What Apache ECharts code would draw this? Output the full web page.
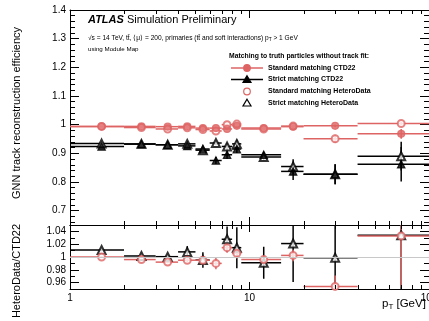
<!DOCTYPE html>
<html>
<head>
<meta charset="utf-8">
<script src="https://cdn.jsdelivr.net/npm/echarts@6/dist/echarts.min.js"></script>
<style>
  html, body { margin: 0; padding: 0; background: #fff; }
  #chart { width: 429px; height: 321px; }
</style>
</head>
<body>
<div id="chart"></div>
<script>
// pT bins [GeV]
const binLo = [1, 2, 3, 4, 5, 6, 7, 8, 9, 15, 20, 40];
const binHi = [2, 3, 4, 5, 6, 7, 8, 9, 15, 20, 40, 100];
const binCenter = [1.5, 2.5, 3.5, 4.5, 5.5, 6.5, 7.5, 8.5, 12, 17.5, 30, 70];

// efficiency, main panel
const stdCTD = [0.994, 0.994, 0.993, 0.994, 0.988, 0.988, 0.985, 0.996, 0.988, 0.993, 0.996, 0.968];
const stdCTDErr = [0.001, 0.001, 0.001, 0.001, 0.002, 0.002, 0.002, 0.003, 0.002, 0.004, 0.005, 0.017];
const stdHet = [0.994, 0.990, 0.985, 0.989, 0.983, 0.978, 1.000, 1.002, 0.985, 0.995, 0.951, 1.004];
const stdHetErr = [0.001, 0.001, 0.001, 0.002, 0.002, 0.003, 0.003, 0.004, 0.003, 0.005, 0.014, 0.006];
const strictCTD = [0.924, 0.932, 0.930, 0.926, 0.915, 0.875, 0.895, 0.915, 0.895, 0.837, 0.827, 0.862];
const strictCTDErr = [0.002, 0.002, 0.002, 0.003, 0.005, 0.012, 0.014, 0.014, 0.008, 0.03, 0.035, 0.06];
const strictHet = [0.934, 0.933, 0.930, 0.933, 0.911, 0.936, 0.924, 0.933, 0.887, 0.854, 0.827, 0.890];
const strictHetErr = [0.002, 0.002, 0.002, 0.003, 0.005, 0.008, 0.012, 0.014, 0.012, 0.025, 0.035, 0.05];

// HeteroData / CTD22 ratio panel
const ratioStd = [1.000, 0.996, 0.992, 0.995, 0.995, 0.990, 1.0146, 1.0057, 0.996, 1.0025, 0.954, 1.033];
const ratioStdErr = [0.001, 0.002, 0.002, 0.003, 0.004, 0.009, 0.008, 0.008, 0.004, 0.009, 0.017, 0.08];
const ratioStrict = [1.011, 1.0016, 1.0005, 1.008, 0.9953, 1.07, 1.0277, 1.0146, 0.991, 1.021, 0.999, 1.034];
const ratioStrictErr = [0.002, 0.002, 0.002, 0.009, 0.012, 0.02, 0.02, 0.032, 0.025, 0.06, 0.07, 0.1];

// tick values
const mainMajor = [0.7, 0.8, 0.9, 1, 1.1, 1.2, 1.3, 1.4];
const mainMinor = [0.66, 0.68, 0.72, 0.74, 0.76, 0.78, 0.82, 0.84, 0.86, 0.88, 0.92, 0.94, 0.96, 0.98,
  1.02, 1.04, 1.06, 1.08, 1.12, 1.14, 1.16, 1.18, 1.22, 1.24, 1.26, 1.28, 1.32, 1.34, 1.36, 1.38];
const ratioMajor = [0.96, 0.98, 1, 1.02, 1.04];
const ratioMinor = [0.95, 0.97, 0.99, 1.01, 1.03, 1.05];
const xMinor = [2, 3, 4, 5, 6, 7, 8, 9, 20, 30, 40, 50, 60, 70, 80, 90];

const RED = '#de6464';
const FONT = '"Liberation Sans", Arial, Helvetica, sans-serif';

const chart = echarts.init(document.getElementById('chart'), null, { renderer: 'canvas' });

function rows(vals, errs) {
  return binCenter.map((x, i) => [x, vals[i], binLo[i], binHi[i], errs[i]]);
}

function errBars(color) {
  return function (params, api) {
    const y = api.value(1), e = api.value(4);
    const l = api.coord([api.value(2), y]);
    const r = api.coord([api.value(3), y]);
    const t = api.coord([api.value(0), y + e]);
    const b = api.coord([api.value(0), y - e]);
    return {
      type: 'group',
      children: [
        { type: 'line', shape: { x1: l[0], y1: l[1], x2: r[0], y2: r[1] }, style: { stroke: color, lineWidth: 1.5 } },
        { type: 'line', shape: { x1: t[0], y1: t[1], x2: b[0], y2: b[1] }, style: { stroke: color, lineWidth: 1.5 } }
      ]
    };
  };
}

// minor log ticks on bottom and top frame of a grid
function minorTicks(len) {
  return function (params, api) {
    const cs = params.coordSys;
    const x = Math.round(api.coord([api.value(0), api.value(1)])[0]) + 0.5;
    const yb = cs.y + cs.height, yt = cs.y;
    return {
      type: 'group',
      children: [
        { type: 'line', shape: { x1: x, y1: yb, x2: x, y2: yb - len }, style: { stroke: '#000', lineWidth: 1 } },
        { type: 'line', shape: { x1: x, y1: yt, x2: x, y2: yt + len }, style: { stroke: '#000', lineWidth: 1 } }
      ]
    };
  };
}

// 2 x axes per grid: bottom (labels) and top
function xAxes(g, labels, majLen) {
  const base = { type: 'log', logBase: 10, min: 1, max: 100, gridIndex: g, splitLine: { show: false } };
  return [
    Object.assign({}, base, {
      position: 'bottom',
      axisLine: { show: true, lineStyle: { color: '#000', width: 1 } },
      axisTick: { inside: true, length: majLen, lineStyle: { color: '#000' } },
      axisLabel: {
        show: labels, margin: 4, color: '#000', fontSize: 10, fontFamily: FONT,
        alignMinLabel: 'center', alignMaxLabel: 'center', hideOverlap: false
      }
    }),
    Object.assign({}, base, {
      position: 'top',
      axisLine: { show: true, lineStyle: { color: '#000', width: 1 } },
      axisTick: { inside: true, length: majLen, lineStyle: { color: '#000' } },
      axisLabel: { show: false }
    })
  ];
}

function yAxes(g, min, max, major, minor) {
  const base = { type: 'value', min: min, max: max, gridIndex: g, splitLine: { show: false } };
  return [
    Object.assign({}, base, {
      position: 'left',
      axisLine: { show: true, lineStyle: { color: '#000', width: 1 } },
      axisTick: { inside: true, length: 9, customValues: major, lineStyle: { color: '#000' } },
      axisLabel: { customValues: major, margin: 4, color: '#000', fontSize: 10, fontFamily: FONT }
    }),
    Object.assign({}, base, {
      position: 'left',
      axisLine: { show: false },
      axisTick: { inside: true, length: 5, customValues: minor, lineStyle: { color: '#000' } },
      axisLabel: { show: false }
    }),
    Object.assign({}, base, {
      position: 'right',
      axisLine: { show: true, lineStyle: { color: '#000', width: 1 } },
      axisTick: { inside: true, length: 9, customValues: major, lineStyle: { color: '#000' } },
      axisLabel: { show: false }
    }),
    Object.assign({}, base, {
      position: 'right',
      axisLine: { show: false },
      axisTick: { inside: true, length: 5, customValues: minor, lineStyle: { color: '#000' } },
      axisLabel: { show: false }
    })
  ];
}

function errSeries(data, color, xi, yi) {
  return {
    type: 'custom', xAxisIndex: xi, yAxisIndex: yi, clip: true, silent: true,
    renderItem: errBars(color), data: data, z: 2
  };
}
function markSeries(data, symbol, size, color, xi, yi, z) {
  return {
    type: 'scatter', xAxisIndex: xi, yAxisIndex: yi, clip: true, silent: true,
    symbol: symbol, symbolSize: size, data: data.map(d => [d[0], d[1]]),
    itemStyle: { color: color, borderColor: color, borderWidth: 1.2 }, z: z
  };
}
function tickSeries(xi, yi, len) {
  return {
    type: 'custom', xAxisIndex: xi, yAxisIndex: yi, clip: false, silent: true,
    renderItem: minorTicks(len), data: xMinor.map(v => [v, 1]), z: 5
  };
}

const series = [
  tickSeries(0, 0, 4),
  tickSeries(2, 4, 4),
  // main panel
  errSeries(rows(stdHet, stdHetErr), RED, 0, 0),
  markSeries(rows(stdHet, stdHetErr), 'emptyCircle', 7, RED, 0, 0, 3),
  errSeries(rows(strictHet, strictHetErr), '#000', 0, 0),
  markSeries(rows(strictHet, strictHetErr), 'emptyTriangle', 8, '#000', 0, 0, 3),
  errSeries(rows(stdCTD, stdCTDErr), RED, 0, 0),
  markSeries(rows(stdCTD, stdCTDErr), 'circle', 7, RED, 0, 0, 4),
  errSeries(rows(strictCTD, strictCTDErr), '#000', 0, 0),
  markSeries(rows(strictCTD, strictCTDErr), 'triangle', 7.5, '#000', 0, 0, 4),
  // ratio panel
  {
    type: 'scatter', xAxisIndex: 2, yAxisIndex: 4, data: [], silent: true,
    markLine: {
      silent: true, symbol: 'none', animation: false, label: { show: false },
      lineStyle: { color: '#c8c8c8', type: 'solid', width: 1 },
      data: [{ yAxis: 1 }]
    }
  },
  errSeries(rows(ratioStrict, ratioStrictErr), '#000', 2, 4),
  markSeries(rows(ratioStrict, ratioStrictErr), 'emptyTriangle', 8, '#000', 2, 4, 3),
  errSeries(rows(ratioStd, ratioStdErr), RED, 2, 4),
  markSeries(rows(ratioStd, ratioStdErr), 'emptyCircle', 7, RED, 2, 4, 4)
];

const legendRows = [
  { label: 'Standard matching CTD22', symbol: 'circle', color: RED, line: true, y: 68 },
  { label: 'Strict matching CTD22', symbol: 'triangle', color: '#000', line: true, y: 79.5 },
  { label: 'Standard matching HeteroData', symbol: 'emptyCircle', color: RED, line: false, y: 91.5 },
  { label: 'Strict matching HeteroData', symbol: 'emptyTriangle', color: '#000', line: false, y: 103 }
];

const graphic = [
  { type: 'text', style: { x: 88, y: 20, text: 'ATLAS', font: 'italic bold 11px ' + FONT, fill: '#000', verticalAlign: 'middle' } },
  { type: 'text', style: { x: 127, y: 20, text: 'Simulation Preliminary', font: '11px ' + FONT, fill: '#000', verticalAlign: 'middle' } },
  {
    type: 'text',
    style: {
      x: 88, y: 38, verticalAlign: 'middle', fill: '#000',
      text: '{a|\u221As = 14 TeV, t\u0074\u0304, \u27E8\u03BC\u27E9 = 200, primaries (t\u0074\u0304 and soft interactions) p}{s|T}{a| > 1 GeV}',
      rich: {
        a: { fontSize: 6.6, fontFamily: FONT, lineHeight: 8, fill: '#000' },
        s: { fontSize: 4.8, fontFamily: FONT, lineHeight: 5, verticalAlign: 'bottom', fill: '#000' }
      }
    }
  },
  { type: 'text', style: { x: 88, y: 49, text: 'using Module Map', font: '6.2px ' + FONT, fill: '#000', verticalAlign: 'middle' } },
  { type: 'text', style: { x: 229, y: 56, text: 'Matching to truth particles without track fit:', font: 'bold 6.8px ' + FONT, fill: '#000', verticalAlign: 'middle' } },
  {
    type: 'text', rotation: Math.PI / 2, x: 17, y: 113,
    style: { x: 0, y: 0, text: 'GNN track reconstruction efficiency', font: '11px ' + FONT, fill: '#000', align: 'center', verticalAlign: 'middle' }
  },
  {
    type: 'text', rotation: Math.PI / 2, x: 17, y: 271,
    style: { x: 0, y: 0, text: 'HeteroData/CTD22', font: '11px ' + FONT, fill: '#000', align: 'center', verticalAlign: 'middle' }
  },
  {
    type: 'text',
    style: {
      x: 382, y: 304, verticalAlign: 'middle', fill: '#000',
      text: '{a|p}{s|T}{a| [GeV]}',
      rich: {
        a: { fontSize: 11.5, fontFamily: FONT, lineHeight: 14, fill: '#000' },
        s: { fontSize: 8, fontFamily: FONT, lineHeight: 8, verticalAlign: 'bottom', fill: '#000' }
      }
    }
  }
];

legendRows.forEach(r => {
  if (r.line) {
    graphic.push({ type: 'line', shape: { x1: 231, y1: r.y, x2: 263, y2: r.y }, style: { stroke: r.color, lineWidth: 1.5 } });
  }
  graphic.push({ type: 'text', style: { x: 268, y: r.y, text: r.label, font: 'bold 7px ' + FONT, fill: '#000', verticalAlign: 'middle' } });
  if (r.symbol === 'circle' || r.symbol === 'emptyCircle') {
    graphic.push({
      type: 'circle', shape: { cx: 247, cy: r.y, r: 3.3 },
      style: { fill: r.symbol === 'circle' ? r.color : '#fff', stroke: r.color, lineWidth: 1.2 }
    });
  } else {
    graphic.push({
      type: 'polygon', shape: { points: [[247, r.y - 3.8], [251, r.y + 3], [243, r.y + 3]] },
      style: { fill: r.symbol === 'triangle' ? r.color : '#fff', stroke: r.color, lineWidth: 1.2 }
    });
  }
});

chart.setOption({
  animation: false,
  backgroundColor: '#fff',
  grid: [
    { left: 70, top: 10, right: 0, height: 215, outerBoundsMode: 'none', containLabel: false },
    { left: 70, top: 225, right: 0, height: 64, outerBoundsMode: 'none', containLabel: false }
  ],
  xAxis: xAxes(0, false, 8).concat(xAxes(1, true, 7)),
  yAxis: yAxes(0, 0.65, 1.4, mainMajor, mainMinor).concat(yAxes(1, 0.95, 1.05, ratioMajor, ratioMinor)),
  series: series,
  graphic: graphic
});
</script>
</body>
</html>
